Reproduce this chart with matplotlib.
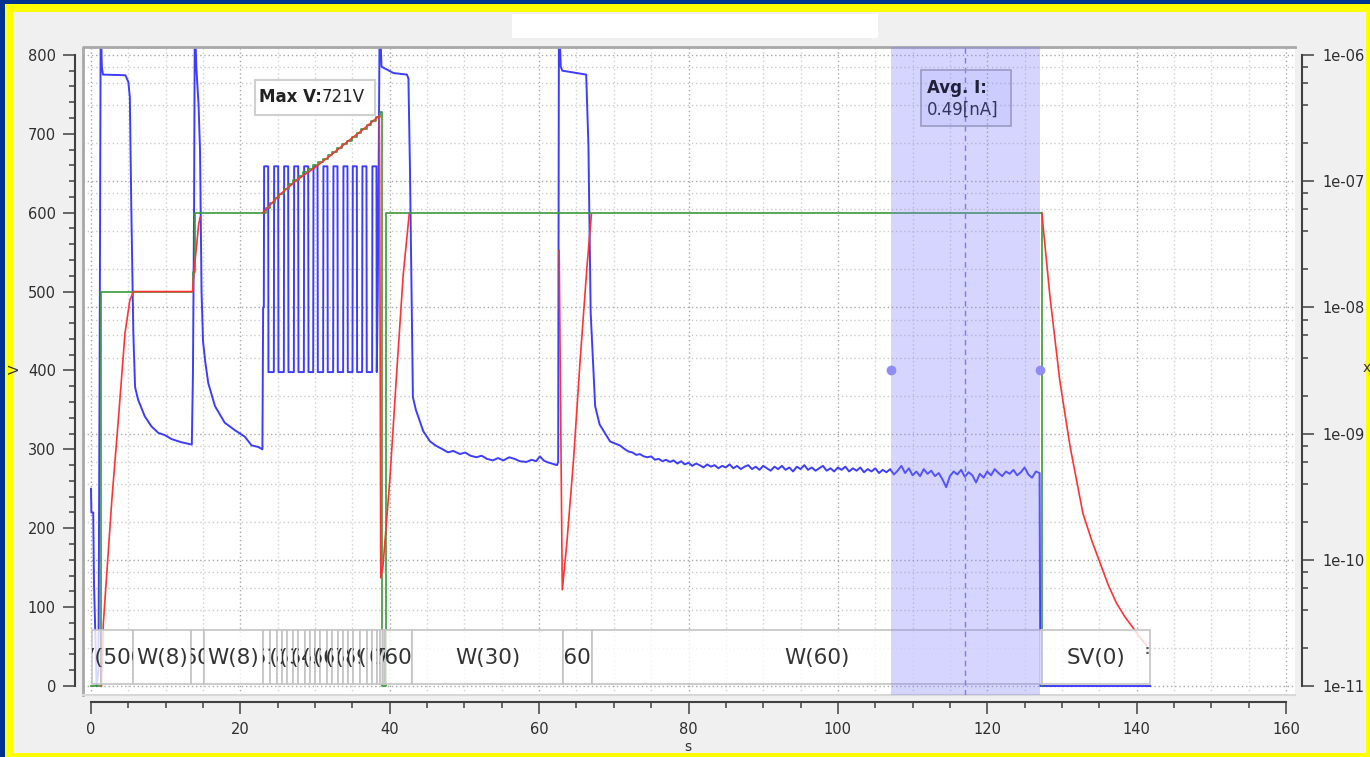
import numpy as np
import matplotlib
matplotlib.use('Agg')
import matplotlib.pyplot as plt
from matplotlib.patches import Rectangle
from matplotlib.transforms import Bbox, TransformedBbox
from matplotlib.ticker import MultipleLocator, LogLocator, FuncFormatter, NullFormatter

# ---- data ----
# current (t [s], I [nA]), right log axis
cur_pts = [(0.0, 0.365), (0.05, 0.237), (0.3, 0.237), (0.4, 0.065), (0.6, 0.0237),
           (0.75, 0.01), (1.0, 0.0133), (1.15, 2.5), (1.3, 2000), (1.45, 806),
           (1.6, 698), (4.6, 690), (5.0, 611), (5.2, 465), (5.4, 60.4), (5.67, 6.22),
           (5.9, 2.34), (6.3, 1.86), (7.2, 1.37), (8.1, 1.14), (9.0, 1.014), (9.9, 0.972),
           (10.8, 0.904), (12.1, 0.854), (13.5, 0.818),
           (13.65, 3.0), (13.8, 60), (13.9, 2000), (14.1, 806), (14.4, 404), (14.6, 175),
           (14.8, 13.3), (15.0, 5.38), (15.3, 3.70), (15.7, 2.51), (16.6, 1.65), (17.9, 1.22),
           (19.3, 1.06), (20.6, 0.944), (21.5, 0.806), (22.4, 0.783), (22.95, 0.75),
           # pulse train during the slow ramp
           (23.05, 10.0), (23.14, 10.0), (23.18, 131), (23.72, 131), (23.76, 3.07),
           (24.48, 3.07), (24.52, 131), (25.06, 131), (25.1, 3.07), (25.82, 3.07),
           (25.86, 131), (26.4, 131), (26.44, 3.07), (27.16, 3.07), (27.2, 131),
           (27.74, 131), (27.78, 3.07), (28.5, 3.07), (28.54, 131), (29.08, 131),
           (29.12, 3.07), (29.75, 3.07), (29.79, 131), (30.33, 131), (30.37, 3.07),
           (31.08, 3.07), (31.12, 131), (31.66, 131), (31.7, 3.07), (32.42, 3.07),
           (32.46, 131), (33.0, 131), (33.04, 3.07), (33.76, 3.07), (33.8, 131),
           (34.34, 131), (34.38, 3.07), (35.01, 3.07), (35.05, 131), (35.59, 131),
           (35.63, 3.07), (36.3, 3.07), (36.34, 131), (36.88, 131), (36.92, 3.07),
           (37.64, 3.07), (37.68, 131), (38.22, 131), (38.26, 3.07), (38.4, 13.3),
           (38.65, 2000),
           (38.9, 806), (40.5, 718), (42.3, 698), (42.5, 649), (42.7, 131), (42.9, 15.4),
           (43.1, 1.94), (43.5, 1.54), (44.5, 1.04), (45.4, 0.866), (46.2, 0.80), (47.1, 0.75),
           (47.8, 0.71), (48.5, 0.729), (49.4, 0.688), (50.1, 0.708), (50.8, 0.668),
           (51.6, 0.649), (52.3, 0.668), (53.0, 0.631), (53.8, 0.613), (54.5, 0.64),
           (55.2, 0.613), (56.0, 0.649), (56.7, 0.631), (57.4, 0.604), (58.3, 0.596),
           (59.0, 0.62), (59.6, 0.604), (60.1, 0.66), (60.6, 0.613), (61.0, 0.596),
           (61.7, 0.579), (62.4, 0.562), (62.55, 0.6), (62.65, 2000),
           (62.9, 806), (63.1, 750), (66.3, 698), (66.6, 191), (66.9, 9.06), (67.5, 1.65),
           (68.1, 1.18), (69.5, 0.866), (70.8, 0.806)]

# W(60) part, logger samples every 0.5 s from 71.5 s
tail_t0 = 71.5
tail_nA = [0.750, 0.72, 0.708, 0.678, 0.688, 0.66, 0.649, 0.66, 0.62, 0.631,
           0.604, 0.62, 0.596, 0.613, 0.579, 0.604, 0.57, 0.588, 0.555, 0.579,
           0.562, 0.539, 0.57, 0.547, 0.562, 0.531, 0.555, 0.539, 0.57, 0.531,
           0.555, 0.523, 0.547, 0.562, 0.523, 0.547, 0.516, 0.555, 0.531, 0.508,
           0.547, 0.523, 0.555, 0.516, 0.539, 0.501, 0.547, 0.523, 0.562, 0.516,
           0.539, 0.508, 0.531, 0.555, 0.508, 0.531, 0.501, 0.539, 0.516, 0.547,
           0.501, 0.531, 0.508, 0.539, 0.494, 0.523, 0.501, 0.531, 0.487, 0.516,
           0.494, 0.523, 0.474, 0.508, 0.555, 0.487, 0.531, 0.467, 0.501, 0.46,
           0.523, 0.48, 0.508, 0.46, 0.487, 0.434, 0.376, 0.46, 0.501, 0.474,
           0.516, 0.454, 0.494, 0.467, 0.41, 0.48, 0.447, 0.501, 0.467, 0.523,
           0.487, 0.46, 0.501, 0.48, 0.516, 0.467, 0.494, 0.539, 0.474, 0.447,
           0.501, 0.487]

end_pts = [(127.1, 0.01), (141.8, 0.01)]

# set voltage (step function) [V]
set_t = [0, 1.35, 13.6, 13.9, 23.0, 23.4, 24.0, 24.6, 25.2, 25.8, 26.5, 27.1, 27.8, 28.4,
         29.1, 29.7, 30.4, 31.0, 31.7, 32.3, 33.0, 33.6, 34.3, 34.9, 35.6, 36.2, 36.9, 37.5,
         38.2, 38.75, 38.9, 39.55, 127.3]
set_v = [0, 500, 525, 600, 600, 606, 612, 618, 624, 630, 636, 641, 646, 651,
         655, 660, 664, 668, 673, 677, 682, 687, 691, 696, 701, 706, 711, 716,
         721, 727, 0, 600, 0]

# measured voltage [V], nan = not shown
nan = float('nan')
meas_t = [1.4, 1.65, 2.8, 3.7, 4.55, 5.2, 5.7, 13.6, 13.75, 14.4, 14.6, nan,
          23.0, 23.6, 25.3, 27.5, 29.8, 32.0, 34.2, 36.5, 38.6, 38.65, 38.8, 39.1, 40.0,
          40.9, 41.8, 42.6, nan,
          62.68, 63.1, 63.7, 64.6, 65.5, 66.4, 67.0, nan,
          127.3, 128.4, 129.7, 130.4, 131.1, 132.8, 134.0, 135.1, 136.2, 137.3, 138.4,
          139.5, 140.4, 141.3]
meas_v = [0, 79, 237, 342, 447, 489, 500, 500, 521, 584, 594, nan,
          600, 606, 623, 641, 656, 672, 689, 706, 723, 655, 137, 153, 260,
          393, 521, 598, nan,
          552, 122, 180, 286, 414, 531, 598, nan,
          600, 493, 388, 345, 303, 219, 184, 156, 128, 105, 88,
          74, 62, 52]

# sequence strip
seq_edges = [0.1, 1.3, 5.6, 13.4, 15.1, 23.0,
             24.0, 24.9, 25.6, 26.2, 27.0, 27.7, 28.6, 29.3, 30.0, 30.7, 31.6, 32.3, 33.1,
             33.7, 34.4, 35.1, 36.0, 36.9, 37.6, 38.3, 38.7, 39.1,
             39.4, 43.0, 63.2, 67.1, 127.3, 141.8]
seq_labels = ['SV(0)', 'R(500)', 'W(8)', 'R(600)', 'W(8)',
              'R(610)', 'W(1)', 'R(620)', 'W(1)', 'R(630)', 'W(1)', 'R(640)', 'W(1)',
              'R(650)', 'W(1)', 'R(660)', 'W(1)', 'R(670)', 'W(1)', 'R(680)', 'W(1)',
              'R(690)', 'W(1)', 'R(700)', 'R(710)', 'R(720)', '7(', '/7(',
              'R(600)', 'W(30)', 'R(600)', 'W(60)', 'SV(0)']

max_v = 721
avg_nA = 0.49
cursor_t = [107.1, 127.05]

# ---- figure ----
W, H = 1370, 757
fig = plt.figure(figsize=(W / 100, H / 100), dpi=100)
fig.patch.set_facecolor('#00338f')
fig.add_artist(Rectangle((5 / W, 0), 1, 1 - 4 / H, transform=fig.transFigure,
                         facecolor='#ffff00', edgecolor='none', zorder=-10))
fig.add_artist(Rectangle((13 / W, 4 / H), (1366 - 13) / W, (753 - 12) / H,
                         transform=fig.transFigure, facecolor='#f0f0f0', edgecolor='none', zorder=-9))
fig.add_artist(Rectangle((512 / W, (H - 38) / H), 366 / W, 24 / H, transform=fig.transFigure,
                         facecolor='white', edgecolor='none', zorder=-8))

ax = fig.add_axes([83 / W, (H - 695) / H, (1295 - 83) / W, (695 - 47) / H])
ax.set_facecolor('white')
ax2 = ax.twinx()
ax.yaxis.tick_right()
ax.yaxis.set_label_position('right')
ax2.yaxis.tick_left()
ax2.yaxis.set_label_position('left')

# current on log axis
cur_t = [p[0] for p in cur_pts] + [tail_t0 + 0.5 * k for k in range(len(tail_nA))] + [p[0] for p in end_pts]
cur_i = [p[1] for p in cur_pts] + tail_nA + [p[1] for p in end_pts]
ax.set_yscale('log')
ax.plot(cur_t, np.array(cur_i) * 1e-9, color='#3d3dff', lw=1.4, zorder=2)

ax2.plot(set_t, set_v, drawstyle='steps-post', color='#3a9a3a', lw=1.2, zorder=2)
ax2.plot(meas_t, meas_v, color='#ff3333', lw=1.2, zorder=3)

ax.set_xlim(-1.07, 161.2)
ax.set_ylim(10 ** -11.071, 10 ** -5.9375)
ax2.set_ylim(-11.4, 810)

# grid
ax.set_axisbelow(True)
ax.grid(True, which='major', axis='x', color='#a8a8a8', ls=(0, (1, 2)), lw=1)
ax.grid(True, which='minor', axis='x', color='#d2d2d2', ls=(0, (1, 2)), lw=1)
ax.grid(True, which='major', axis='y', color='#a8a8a8', ls=(0, (1, 2)), lw=1)
ax.grid(True, which='minor', axis='y', color='#cccccc', ls=(0, (1, 2)), lw=1)

# ticks / spines
ax.xaxis.set_major_locator(MultipleLocator(20))
ax.xaxis.set_minor_locator(MultipleLocator(5))
ax.yaxis.set_major_locator(LogLocator(base=10, numticks=20))
ax.yaxis.set_minor_locator(LogLocator(base=10, subs=(2, 4, 6, 8), numticks=20))
ax.yaxis.set_major_formatter(FuncFormatter(lambda v, p: '%.0e' % v))
ax.yaxis.set_minor_formatter(NullFormatter())
ax2.yaxis.set_major_locator(MultipleLocator(100))
ax2.yaxis.set_minor_locator(MultipleLocator(20))

tc = '#404040'
for a in (ax, ax2):
    a.tick_params(which='major', direction='out', length=8.5, width=1.1, color=tc,
                  labelcolor='#2e2e2e', labelsize=10.5)
    a.tick_params(which='minor', direction='out', length=4.5, width=1.1, color=tc)
ax.tick_params(axis='x', which='major', pad=6)
ax.tick_params(axis='y', which='both', right=True, left=False, labelright=True, labelleft=False)
ax.tick_params(axis='y', which='major', pad=6)
ax2.tick_params(axis='y', which='both', left=True, right=False, labelleft=True, labelright=False)
ax2.tick_params(axis='y', which='major', pad=5)

for s in ('top', 'left'):
    ax.spines[s].set_visible(False)
for s in ('top', 'right', 'bottom'):
    ax2.spines[s].set_visible(False)
ax.spines['bottom'].set_position(('outward', 5))
ax.spines['bottom'].set_bounds(0, 160)
ax.spines['right'].set_position(('outward', 5))
ax.spines['right'].set_bounds(1e-11, 1e-6)
ax2.spines['left'].set_position(('outward', 6))
ax2.spines['left'].set_bounds(0, 800)
for sp in (ax.spines['bottom'], ax.spines['right'], ax2.spines['left']):
    sp.set_color(tc)
    sp.set_linewidth(1.5)

# plot area frame
ax2.plot([0, 0, 1], [0, 1, 1], transform=ax2.transAxes, color='#a8a8a8', lw=2, clip_on=False, zorder=1)
ax2.plot([0, 1], [0, 0], transform=ax2.transAxes, color='#d8d8d8', lw=1.5, clip_on=False, zorder=1)

# sequence strip, each label cut to its own cell
for i, lab in enumerate(seq_labels):
    a, b = seq_edges[i], seq_edges[i + 1]
    r = Rectangle((a, 2), b - a, 69, facecolor=(1, 1, 1, 0.8), edgecolor='#c4c4c4', lw=1.2, zorder=5)
    ax2.add_patch(r)
    txt = ax2.text((a + b) / 2, 36, lab, ha='center', va='center', fontsize=15.5,
                   color='#333333', zorder=6)
    txt.set_clip_on(True)
    txt.set_clip_box(TransformedBbox(Bbox([[a, 2], [b, 71]]), ax2.transData))
ax2.text(141.4, 45, ':', ha='center', va='center', fontsize=9, fontweight='bold', color='#555555', zorder=6)

# averaging window
ax2.axvspan(cursor_t[0], cursor_t[1], color=(0.5, 0.5, 1.0), alpha=0.33, lw=0, zorder=7)
ax2.axvline((cursor_t[0] + cursor_t[1]) / 2, color='#7b7bf0', ls=(0, (4, 3)), lw=1, zorder=8)
ax2.plot(cursor_t, [400, 400], 'o', ms=6, color='#8d8df5', zorder=9, clip_on=False)

ax2.add_patch(Rectangle((111.1, 710), 12.1, 71, facecolor=(0.55, 0.55, 1.0, 0.12),
                        edgecolor='#9a9ac4', lw=1.2, zorder=10))
ax2.text(111.9, 758, 'Avg. I:', ha='left', va='center', fontsize=12, fontweight='bold',
         color='#202038', zorder=11)
ax2.text(111.9, 730, '%.2f[nA]' % avg_nA, ha='left', va='center', fontsize=12,
         color='#35355a', zorder=11)

# max voltage label
ax2.add_patch(Rectangle((21.95, 724), 16.1, 44, facecolor=(1, 1, 1, 0.92),
                        edgecolor='#d0d0d0', lw=1.5, zorder=10))
ax2.text(30.9, 746, 'Max V:', ha='right', va='center', fontsize=12, fontweight='bold',
         color='#222222', zorder=11)
ax2.text(30.9, 746, '%dV' % max_v, ha='left', va='center', fontsize=12,
         color='#222222', zorder=11)

# axis titles
fig.text(15 / W, 1 - 369 / H, 'V', rotation=90, ha='center', va='center', fontsize=10, color='#333333')
fig.text(688 / W, 1 - 747 / H, 's', ha='center', va='center', fontsize=10, color='#333333')
fig.text(1363 / W, 1 - 368 / H, 'x', ha='left', va='center', fontsize=10, color='#333333')

fig.savefig('out.png', dpi=100, facecolor=fig.get_facecolor())
